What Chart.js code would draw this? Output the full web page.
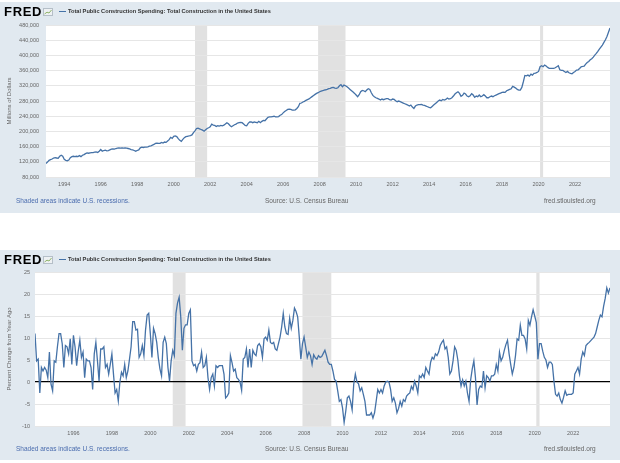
<!DOCTYPE html>
<html>
<head>
<meta charset="utf-8">
<script src="https://cdn.jsdelivr.net/npm/chart.js@4.4.0/dist/chart.umd.min.js"></script>
<style>
  body { margin: 0; width: 620px; height: 463px; background: #fff; position: relative; overflow: hidden;
         font-family: "Liberation Sans", Arial, sans-serif; }
  .panel { position: absolute; left: 0; width: 620px; background: #e1e9f0; }
  .panel canvas { position: absolute; left: 0; top: 0; }
  .logo { position: absolute; left: 4px; top: 3px; font-size: 13px; line-height: 13px; font-weight: bold;
          letter-spacing: 0.7px; color: #000; }
  .icon { position: absolute; left: 43px; top: 6px; }
  .legline { position: absolute; left: 59px; top: 9px; width: 7px; height: 1px; background: #4572a7; }
  .title { position: absolute; left: 68px; top: 5px; font-size: 5.65px; line-height: 8px; font-weight: bold; color: #333; white-space: nowrap; }
  .foot { position: absolute; top: 195px; font-size: 6.5px; line-height: 8px; white-space: nowrap; color: #666; }
  .note { left: 16px; color: #4a6cae; }
  .src { left: 265px; }
  .site { left: 544px; }
</style>
</head>
<body>

<div class="panel" id="topPanel" style="top:2px; height:211px;">
  <canvas id="levelChart" width="620" height="211"></canvas>
</div>

<div class="panel" id="bottomPanel" style="top:250px; height:210px;">
  <canvas id="changeChart" width="620" height="210"></canvas>
</div>

<script>
// Total Public Construction Spending (TLPBLCONS), millions of dollars, monthly from 1993-01
const levelStart = 1993;
const levelValues = [
  115700, 119300, 123800, 125500, 127300, 130000, 130900, 130000, 129000, 134500, 137200, 134500, // 1993
  126400, 123800, 122900, 124700, 130900, 133600, 134500, 133600, 134500, 133600, 136300, 133600, // 1994
  137200, 139000, 141600, 143400, 142500, 143400, 144300, 144300, 145200, 146100, 144300, 147900, // 1995
  152300, 147900, 149700, 150500, 148800, 149700, 151400, 153200, 154100, 153200, 155000, 155900, // 1996
  156800, 155900, 156800, 155900, 156800, 155900, 155000, 154100, 152300, 151400, 149700, 147900, // 1997
  149700, 151400, 156800, 158600, 157700, 158600, 158600, 159500, 161300, 162200, 163900, 165700, // 1998
  168400, 169300, 168400, 168400, 171100, 169300, 172000, 171100, 174700, 178200, 184500, 181800, // 1999
  187200, 188000, 186300, 180900, 176400, 173800, 179100, 183600, 186300, 187200, 188000, 188900, // 2000
  190700, 197000, 201400, 207700, 208600, 206800, 205000, 203200, 200600, 204100, 207700, 209500, // 2001
  212200, 219300, 216600, 215700, 213100, 214800, 214000, 215700, 214800, 216600, 219300, 222900, // 2002
  220200, 215700, 212200, 214800, 217500, 219300, 222000, 222900, 223800, 222900, 219300, 215700, // 2003
  214800, 221100, 224700, 224700, 222900, 224700, 223800, 222900, 226500, 222900, 226500, 229100, // 2004
  228200, 232700, 237200, 238100, 238100, 239000, 239800, 238100, 238100, 239000, 242500, 244300, // 2005
  248800, 252300, 255000, 257700, 258600, 257700, 255900, 255900, 256800, 260400, 264900, 273800, // 2006
  274700, 277400, 279100, 281800, 283600, 285400, 288500, 291500, 294500, 297400, 300000, 301800, // 2007
  304400, 306100, 307000, 308800, 309600, 310500, 312300, 313100, 314900, 315800, 314000, 313100, // 2008
  314900, 320100, 322800, 317500, 321900, 320100, 317500, 314000, 310500, 307000, 303500, 300000, // 2009
  295700, 291300, 296500, 304400, 307900, 307000, 304400, 308800, 312300, 310500, 301800, 294800, // 2010
  291300, 288600, 286900, 285100, 282500, 285100, 283400, 285100, 286000, 286000, 283400, 282500, // 2011
  285100, 284200, 280700, 278100, 279800, 278100, 276300, 274600, 272800, 271100, 269300, 266700, // 2012
  269300, 264000, 260500, 266700, 269300, 270200, 270200, 271100, 269300, 268400, 266700, 264900, // 2013
  263100, 262300, 265800, 269300, 272800, 276300, 279800, 282500, 280700, 284200, 282500, 284200, // 2014
  287700, 285100, 286000, 288600, 293000, 298300, 301800, 304400, 300000, 292100, 294800, 300900, // 2015
  298300, 293000, 291300, 293900, 299200, 295700, 289500, 293000, 291300, 295700, 291300, 293000, // 2016
  296500, 293000, 288600, 288600, 291300, 293000, 291300, 293900, 295700, 297400, 299200, 300900, // 2017
  302700, 303500, 302700, 307000, 308800, 310500, 312300, 318400, 316600, 314000, 310500, 308800, // 2018
  308800, 315800, 330700, 347300, 346400, 348200, 345600, 350800, 348200, 352600, 353400, 355200, // 2019
  357800, 370100, 372700, 370100, 374500, 371900, 368400, 365800, 365800, 365800, 365800, 367500, // 2020
  370100, 372700, 362100, 360400, 360400, 357800, 355200, 357800, 354300, 352600, 351700, 355200, // 2021
  357800, 361300, 362100, 365600, 370100, 370900, 371800, 377000, 381400, 384100, 388500, 391100, // 2022
  395500, 400800, 405200, 410500, 416600, 421900, 427200, 434200, 441200, 450000, 461000, 472000  // 2023
];

// Percent change from year ago, monthly from 1994-01
const changeStart = 1994;
const changeValues = [
  11, 4.8, 5.2, -2.5, 3.3, 2.5, 3.3, 2.7, 1, 6.8, -0.5, -2,            // 1994
  4.8, 4.5, 8, 11, 11, 8.7, 3.3, 8.3, 8, 6.4, 9.8, 4,                  // 1995
  10.6, 8, 3.7, 7, 9.5, 5.6, 6.8, 1, 5.2, 4.8, 4.8, 3.3,               // 1996
  -1.7, 6.4, 9, 4.8, 0.2, 7.5, 7.5, 8, 3.3, 4, 1.8, 4,                 // 1997
  6.4, 1.8, -2.5, -1.7, -4.3, 0, 2.2, 1.4, 4, 1, 2.5, 5.2,             // 1998
  8, 13.7, 13.7, 11.8, 12, 5.6, 6.4, 8.3, 6, 11.8, 15.2, 15.6,         // 1999
  11, 5.6, 12.2, 11, 9, 5.5, 3, 1.4, 9, 10.2, 8.7, 3.3,                // 2000
  0.2, 4.8, 7.2, 6, 15.6, 18, 19.3, 14.8, 7.2, 12.2, 13, 13,           // 2001
  15.6, 16.4, 4.8, 3.7, 4, 2.5, 4, 4.4, 6.8, 3.3, 3.7, 5.6,            // 2002
  1, -1.7, 1, 1.8, -0.9, 3.7, 3.3, 3.7, 3.7, 3.7, 1.8, -3.6,           // 2003
  -3.2, -2.5, 6, 4.4, 2.5, 2.9, 1, 0.6, 0, -1.9, 5.2, 5.6,             // 2004
  7.5, 3.3, 7.5, 3.3, 7.2, 6.4, 6, 8.3, 8.7, 8, 5.6, 9.8,              // 2005
  10.2, 9.5, 11.8, 9, 8.7, 9, 7.5, 7.2, 8.7, 10.2, 12.5, 15.6,         // 2006
  12.5, 11, 10.8, 14.5, 12.2, 14, 16.8, 16, 14.8, 10.2, 5.2, 8.7,      // 2007
  10.2, 8, 5.6, 6.8, 6, 4, 6.2, 5.5, 5.2, 6, 5.6, 5.8,                 // 2008
  6.5, 7.2, 6, 4.5, 4, 4, 2.5, 0.6, 0.2, -2, -4.4, -4,                 // 2009
  -5.9, -9.2, -6.7, -3.6, -3.2, -4.4, -6.3, -0.5, 1.8, 0, -0.4, -2,    // 2010
  -1.3, -2.8, -4.4, -7.5, -7.5, -7.5, -7, -8.2, -7, -4.4, -1.7, -2.5,  // 2011
  -1.7, -2.5, -0.9, 0, 0.2, 0, -1.7, -4.4, -3.6, -4.8, -7, -6,         // 2012
  -4.4, -5.5, -4, -4.4, -3.2, -2.8, -2.5, -1, -1.7, 0.2, -0.9, -2.5,   // 2013
  1.4, 1, 1.8, 1, 3.3, 2.5, 1.8, 4.5, 5.6, 5.2, 6.4, 6,                // 2014
  6.8, 8.3, 9, 9.5, 7.5, 8, 5.6, 1.8, 2.5, 4.8, 8, 7.2,                // 2015
  5, 1.4, -0.9, 0.5, -0.9, 0.2, -2.5, -4.4, 0.5, 3, 4.8, 1,            // 2016
  -5.2, -1.7, -0.9, -1.2, 2.5, -1.3, 1.4, 1, 0.2, 1.4, 1.4, 1.8,       // 2017
  4, 2.5, 6.8, 4.8, 5.6, 7.2, 8.5, 9.5, 6.4, 4, 1.8, 3.3,              // 2018
  6, 9.8, 9.5, 12.9, 10.6, 10.6, 9.8, 7.5, 14, 12.9, 14.8, 16.4,       // 2019
  15, 13.5, 5.2, 8.7, 8.7, 7, 5.6, 5, 3.3, 4.5, 4.5, 4,                // 2020
  0.2, -2.8, -3.2, -2.5, -4, -4.8, -3.5, -2, -3, -2.8, -2.8, -2.8,     // 2021
  -2.5, 1.8, 2.5, 3.3, 1.8, 5.2, 6.8, 6, 8.3, 8.7, 9, 9.4,             // 2022
  9.8, 10.2, 11, 12.5, 14, 15.2, 14.8, 17.2, 19, 21.4, 20.2, 21.4      // 2023
];

const levelYearTicks = [1994, 1996, 1998, 2000, 2002, 2004, 2006, 2008, 2010, 2012, 2014, 2016, 2018, 2020, 2022];
const changeYearTicks = [1996, 1998, 2000, 2002, 2004, 2006, 2008, 2010, 2012, 2014, 2016, 2018, 2020, 2022];

// NBER recessions (start month, end month)
const recessions = [['2001-03', '2001-11'], ['2007-12', '2009-06'], ['2020-02', '2020-04']];

const seriesTitle = 'Total Public Construction Spending: Total Construction in the United States';
const lineColor = '#4572a7';

function toYear(s) {
    const [y, m] = s.split('-').map(Number);
    return y + (m - 1) / 12;
}

function toPoints(start, values) {
    return values.map((v, i) => ({ x: start + i / 12, y: v }));
}

// Paint the white plot area and the recession bars under the grid
const recessionPlugin = {
    id: 'recessions',
    beforeDraw(chart) {
        const { ctx, chartArea: a, scales: { x } } = chart;
        ctx.save();
        ctx.fillStyle = '#ffffff';
        ctx.fillRect(a.left, a.top, a.width, a.height);
        ctx.fillStyle = '#e1e1e1';
        recessions.forEach(([s, e]) => {
            const x0 = Math.max(x.getPixelForValue(toYear(s)), a.left);
            const x1 = Math.min(x.getPixelForValue(toYear(e)), a.right);
            if (x1 > x0) ctx.fillRect(x0, a.top, x1 - x0, a.height);
        });
        ctx.restore();
    }
};

function addChrome(panel) {
    const html = `
      <div class="logo">FRED</div>
      <svg class="icon" width="10" height="8"><rect x="0.5" y="0.5" width="9" height="7" fill="#eef1f3" stroke="#b5bfc8"/>
        <polyline points="1.5,6 4,4.2 6,5 8.5,2" fill="none" stroke="#8fb46a" stroke-width="1"/></svg>
      <div class="legline"></div>
      <div class="title">${seriesTitle}</div>
      <div class="foot note">Shaded areas indicate U.S. recessions.</div>
      <div class="foot src">Source: U.S. Census Bureau</div>
      <div class="foot site">fred.stlouisfed.org</div>`;
    panel.insertAdjacentHTML('beforeend', html);
}

function makeChart(canvasId, cfg) {
    const tickFont = { family: '"Liberation Sans", Arial, sans-serif', size: 5.5 };
    return new Chart(document.getElementById(canvasId), {
        type: 'line',
        data: {
            datasets: [{
                data: toPoints(cfg.start, cfg.values),
                borderColor: lineColor,
                borderWidth: 1.3,
                pointRadius: 0,
                tension: 0
            }]
        },
        options: {
            responsive: false,
            animation: false,
            layout: { padding: { top: cfg.top, right: 10, left: 0, bottom: 0 } },
            plugins: { legend: { display: false }, tooltip: { enabled: false } },
            scales: {
                x: {
                    type: 'linear',
                    min: cfg.start,
                    max: cfg.start + (cfg.values.length - 1) / 12,
                    grid: { display: false, drawTicks: false },
                    border: { display: false },
                    afterBuildTicks: s => { s.ticks = cfg.yearTicks.map(v => ({ value: v })); },
                    afterFit: s => { s.height = cfg.xHeight; },
                    ticks: {
                        autoSkip: false, maxRotation: 0, padding: 4,
                        color: '#666', font: tickFont,
                        callback: v => String(v)
                    }
                },
                y: {
                    min: cfg.yMin, max: cfg.yMax,
                    afterFit: s => { s.width = cfg.yWidth; },
                    border: { display: false },
                    grid: {
                        drawTicks: false,
                        color: c => (cfg.zeroLine && c.tick && c.tick.value === 0) ? '#000000' : '#e6e6e6',
                        lineWidth: c => (cfg.zeroLine && c.tick && c.tick.value === 0) ? 1.3 : 1
                    },
                    ticks: {
                        stepSize: cfg.yStep, padding: cfg.yPad,
                        color: '#666', font: tickFont,
                        callback: v => v.toLocaleString('en-US')
                    },
                    title: {
                        display: true, text: cfg.yTitle, color: '#666',
                        font: { family: '"Liberation Sans", Arial, sans-serif', size: 6 },
                        padding: { top: cfg.titlePad, bottom: 0 }
                    }
                }
            }
        },
        plugins: [recessionPlugin]
    });
}

addChrome(document.getElementById('topPanel'));
addChrome(document.getElementById('bottomPanel'));

makeChart('levelChart', {
    start: levelStart, values: levelValues, yearTicks: levelYearTicks,
    top: 23, xHeight: 36, yWidth: 46, yPad: 7, titlePad: 5.4,
    yMin: 80000, yMax: 480000, yStep: 40000,
    yTitle: 'Millions of Dollars', zeroLine: false
});

makeChart('changeChart', {
    start: changeStart, values: changeValues, yearTicks: changeYearTicks,
    top: 22, xHeight: 34, yWidth: 35, yPad: 5, titlePad: 5.9,
    yMin: -10, yMax: 25, yStep: 5,
    yTitle: 'Percent Change from Year Ago', zeroLine: true
});
</script>
</body>
</html>
